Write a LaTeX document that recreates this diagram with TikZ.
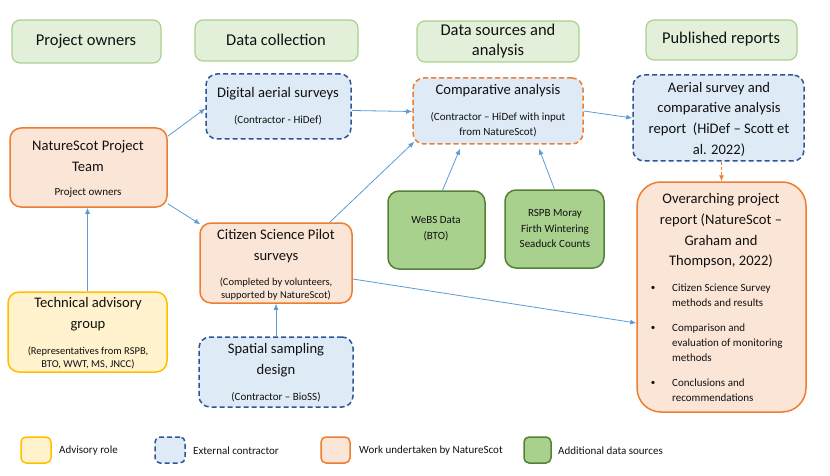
\documentclass[tikz,border=0pt]{standalone}
\usepackage{fontspec}
\setmainfont{Carlito}
\usetikzlibrary{arrows.meta,fit,calc}
\definecolor{hdrF}{HTML}{E2F0D9}
\definecolor{hdrB}{HTML}{A9D18E}
\definecolor{ctrF}{HTML}{DEEBF7}
\definecolor{ctrB}{HTML}{2F5597}
\definecolor{wrkF}{HTML}{FBE5D6}
\definecolor{wrkB}{HTML}{ED7D31}
\definecolor{advF}{HTML}{FFF2CC}
\definecolor{advB}{HTML}{FFC000}
\definecolor{datF}{HTML}{A9D18E}
\definecolor{datB}{HTML}{548235}
\definecolor{arr}{HTML}{5B9BD5}
\definecolor{txt}{HTML}{111111}
\tikzset{
  boxbase/.style={inner sep=0pt, line width=1.5pt, rounded corners=11pt},
  hdr/.style={boxbase, draw=hdrB, fill=hdrF, line width=1.2pt, rounded corners=8pt},
  ctr/.style={boxbase, draw=ctrB, fill=ctrF, dash pattern=on 5pt off 3pt},
  wrk/.style={boxbase, draw=wrkB, fill=wrkF},
  adv/.style={boxbase, draw=advB, fill=advF},
  dat/.style={boxbase, draw=datB, fill=datF},
  hdrtxt/.style={inner sep=0pt, text=txt, align=center, font=\fontsize{16.5}{20}\selectfont},
  ttl/.style={inner sep=0pt, text=txt, align=center, font=\fontsize{14.6}{21}\selectfont},
  sml/.style={inner sep=0pt, text=txt, align=center, font=\fontsize{11}{13.5}\selectfont},
  leg/.style={inner sep=0pt, text=txt, anchor=west, font=\fontsize{11}{13}\selectfont},
  conn/.style={draw=arr, line width=0.8pt, -{Latex[length=6pt,width=5pt]}},
}
\begin{document}
\begin{tikzpicture}[x=1pt,y=-1pt]
\useasboundingbox (0,0) rectangle (830,476);
% headers
\node[hdr, fit={(12,20)(161,63)}] (h1) {};
\node[hdr, fit={(195,20)(358,61)}] (h2) {};
\node[hdr, fit={(417,21)(579,62)}] (h3) {};
\node[hdr, fit={(646,20)(797,60)}] (h4) {};
\node[hdrtxt] (h1t) at (86,41) {Project owners};
\node[hdrtxt] (h2t) at (276,40) {Data collection};
\node[hdrtxt] (h3t) at (498,41) {Data sources and\\analysis};
\node[hdrtxt] (h4t) at (721,39) {Published reports};
% boxes
\node[ctr, fit={(206,74)(351,139)}] (dig) {};
\node[ttl] (digt) at (278,94) {Digital aerial surveys};
\node[sml] (digs) at (278,120) {(Contractor - HiDef)};

\node[wrk, fit={(10,128)(167,207)}] (nst) {};
\node[ttl] (nstt) at (88,156.5) {NatureScot Project\\Team};
\node[sml] (nsts) at (88,193) {Project owners};

\node[wrk, fit={(200,223)(352,303)}] (cit) {};
\node[ttl] (citt) at (276,246) {Citizen Science Pilot\\surveys};
\node[sml, font=\fontsize{10.5}{13}\selectfont] (cits) at (276,289.5) {(Completed by volunteers,\\supported by NatureScot)};

\node[adv, fit={(8,292)(167,372)}] (tech) {};
\node[ttl] (techt) at (88,314.5) {Technical advisory\\group};
\node[sml, font=\fontsize{10.5}{13}\selectfont] (techs) at (88,357.5) {(Representatives from RSPB,\\BTO, WWT, MS, JNCC)};

\node[ctr, fit={(199,337)(353,407)}] (spa) {};
\node[ttl] (spat) at (276,360.5) {Spatial sampling\\design};
\node[sml] (spas) at (276,397) {(Contractor -- BioSS)};

\node[ctr, draw=wrkB, fit={(413,78)(583,144)}] (cmp) {};
\node[ttl] (cmpt) at (498,91) {Comparative analysis};
\node[sml, font=\fontsize{11}{15}\selectfont] (cmps) at (498,124.5) {(Contractor -- HiDef with input\\from NatureScot)};

\node[ctr, fit={(633,75)(804,161)}] (arp) {};
\node[ttl, font=\fontsize{14.6}{20.7}\selectfont] (arpt) at (719,119) {Aerial survey and\\comparative analysis\\report\ \ (HiDef -- Scott et\\al. 2022)};

\node[wrk, rounded corners=24pt, fit={(637,182)(806,412)}] (ovr) {};
\node[ttl, font=\fontsize{14.6}{20.7}\selectfont] (ovrt) at (721,231) {Overarching project\\report (NatureScot --\\Graham and\\Thompson, 2022)};
\node[inner sep=0pt, text=txt, font=\fontsize{9}{9}\selectfont] (b1) at (653,288) {\textbullet};
\node[inner sep=0pt, text=txt, font=\fontsize{9}{9}\selectfont] (b2) at (653,328) {\textbullet};
\node[inner sep=0pt, text=txt, font=\fontsize{9}{9}\selectfont] (b3) at (653,383) {\textbullet};
\node[sml, align=left, anchor=west, font=\fontsize{11}{15}\selectfont] (o1) at (672,295.5) {Citizen Science Survey\\methods and results};
\node[sml, align=left, anchor=west, font=\fontsize{11}{15}\selectfont] (o2) at (672,343) {Comparison and\\evaluation of monitoring\\methods};
\node[sml, align=left, anchor=west, font=\fontsize{11}{15}\selectfont] (o3) at (672,390) {Conclusions and\\recommendations};

\node[dat, fit={(388,191)(485,269)}] (webs) {};
\node[sml, font=\fontsize{11}{16}\selectfont] (webst) at (436,229) {WeBS Data\\(BTO)};
\node[dat, fit={(505,190)(604,268)}] (rspb) {};
\node[sml, font=\fontsize{11}{15.5}\selectfont] (rspbt) at (555,228.5) {RSPB Moray\\Firth Wintering\\Seaduck Counts};

% connectors
\draw[conn] ([yshift=-9pt]nst.north east) -- ([yshift=-2pt]dig.west);
\draw[conn] ([yshift=4pt]nst.south east) -- ([xshift=1pt,yshift=-2pt]cit.north west);
\draw[conn] ([yshift=-4pt]dig.east) -- ([yshift=-0.5pt]cmp.west);
\draw[conn] ([xshift=-23pt]cit.north east) -- ([xshift=2pt,yshift=3pt]cmp.south west);
\draw[conn] (tech.north) -- (tech.north |- nst.south);
\draw[conn] (spa.north) -- (spa.north |- cit.south);
\draw[conn] ([yshift=-16pt]cit.east) -- ([yshift=-26pt]ovr.west);
\draw[conn] ([xshift=6pt]webs.north) -- ([xshift=-38pt,yshift=-4pt]cmp.south);
\draw[conn] (rspb.north) -- ([xshift=41pt,yshift=-4pt]cmp.south);
\draw[conn] (cmp.east) -- (arp.west);
\draw[conn, draw=wrkB, dash pattern=on 3pt off 2pt] (ovr.north |- arp.south) -- (ovr.north);

% legend
\node[adv, rounded corners=5pt, fit={(21,437)(51,463)}] (l1) {};
\node[ctr, rounded corners=5pt, fit={(155,437)(185,463)}] (l2) {};
\node[wrk, rounded corners=5pt, fit={(321,437)(350,463)}] (l3) {};
\node[dat, rounded corners=5pt, fit={(524,437)(551,463)}] (l4) {};
\node[leg] (l1t) at (59,451) {Advisory role};
\node[leg] (l2t) at (193,451) {External contractor};
\node[leg] (l3t) at (359,451) {Work undertaken by NatureScot};
\node[leg] (l4t) at (558,451) {Additional data sources};
\end{tikzpicture}
\end{document}
